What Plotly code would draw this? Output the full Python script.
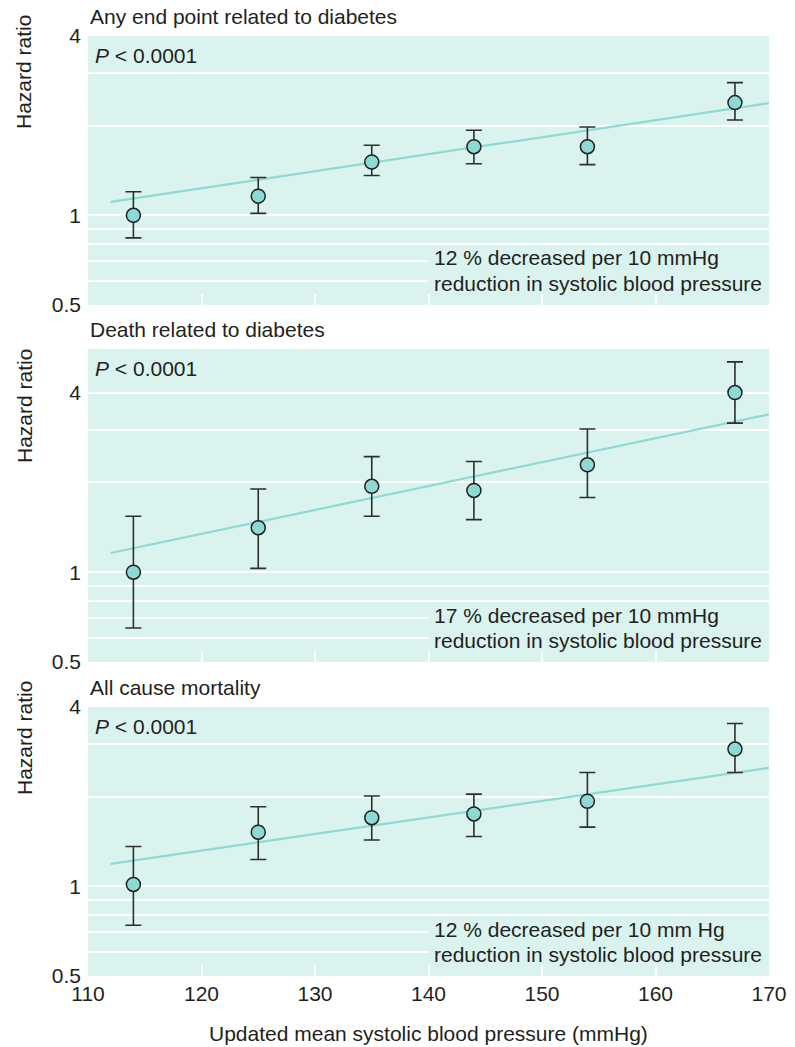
import plotly.graph_objects as go
import math

# ---- data ----
sbp = [114, 125, 135, 144, 154, 167]

titles = ["Any end point related to diabetes", "Death related to diabetes", "All cause mortality"]
notes_line1 = [
    "12 % decreased per 10 mmHg",
    "17 % decreased per 10 mmHg",
    "12 % decreased per 10 mm Hg",
]
notes_line2 = ["reduction in systolic blood pressure"] * 3

hr_any = [1.00, 1.16, 1.51, 1.70, 1.70, 2.39]
hi_any = [1.20, 1.34, 1.72, 1.93, 1.98, 2.79]
lo_any = [0.84, 1.015, 1.36, 1.49, 1.48, 2.09]

hr_death = [1.00, 1.41, 1.94, 1.88, 2.29, 4.00]
hi_death = [1.54, 1.90, 2.44, 2.35, 3.02, 5.07]
lo_death = [0.65, 1.03, 1.54, 1.50, 1.78, 3.16]

hr_all = [1.015, 1.52, 1.70, 1.75, 1.93, 2.89]
hi_all = [1.36, 1.85, 2.01, 2.04, 2.41, 3.52]
lo_all = [0.74, 1.23, 1.43, 1.47, 1.58, 2.41]

fit_x = [112, 170]
fit_any = [1.11, 2.38]
fit_death = [1.16, 3.38]
fit_all = [1.19, 2.50]

y_tickvals = [0.5, 0.6, 0.7, 0.8, 0.9, 1, 2, 3, 4]
y_ticktext = ["0.5", "", "", "", "", "1", "", "", "4"]
x_tickvals = [110, 120, 130, 140, 150, 160, 170]

# ---- style ----
W, H = 795, 1047
BG = "#DBF3EF"
TEAL = "#8DDAD5"
INK = "#231F20"
FONT = "Liberation Sans, Arial, sans-serif"
FS = 21


def px(x):
    return x / W


def py(y):
    return 1 - y / H


# panel pixel boxes (top, bottom)
panels = [(36, 305), (349, 662), (707, 976)]
yranges = [(0.5, 4.0), (0.5, 5.6), (0.5, 4.0)]
hr_label_y = [72, 406, 738]
x0, x1 = 88, 769

series = [
    (hr_any, hi_any, lo_any, fit_any),
    (hr_death, hi_death, lo_death, fit_death),
    (hr_all, hi_all, lo_all, fit_all),
]

fig = go.Figure()
annotations = []
shapes = []
for i, ((hr, hi, lo, fit), (top, bot), (ylo, yhi)) in enumerate(zip(series, panels, yranges)):
    n = i + 1
    xa = "x" if n == 1 else f"x{n}"
    ya = "y" if n == 1 else f"y{n}"
    fig.add_trace(go.Scatter(
        x=fit_x, y=fit, mode="lines", line=dict(color=TEAL, width=2.2),
        xaxis=xa, yaxis=ya, showlegend=False, hoverinfo="skip"))
    fig.add_trace(go.Scatter(
        x=sbp, y=hr, mode="markers",
        marker=dict(size=14, color=TEAL, line=dict(color=INK, width=1.5)),
        error_y=dict(type="data", symmetric=False,
                     array=[h - m for h, m in zip(hi, hr)],
                     arrayminus=[m - l for m, l in zip(hr, lo)],
                     color="#2E2E2E", thickness=1.6, width=8),
        xaxis=xa, yaxis=ya, showlegend=False))

    dom = [py(bot), py(top)]
    fig.layout[f"xaxis{'' if n == 1 else n}"] = dict(
        domain=[px(x0), px(x1)], range=[110, 170], anchor=ya, automargin=False,
        tickvals=x_tickvals, ticks="inside", ticklen=11, tickwidth=1.5,
        tickcolor="white", showgrid=False, zeroline=False, showline=False,
        showticklabels=(n == 3), ticklabelstandoff=3,
        tickfont=dict(family=FONT, size=FS, color=INK),
    )
    fig.layout[f"yaxis{'' if n == 1 else n}"] = dict(
        domain=dom, type="log", range=[math.log10(ylo), math.log10(yhi)],
        anchor=xa, automargin=False, tickvals=y_tickvals, ticktext=y_ticktext, ticks="",
        showgrid=True, gridcolor="white", gridwidth=1.5, zeroline=False,
        showline=False, ticklabelstandoff=6,
        tickfont=dict(family=FONT, size=FS, color=INK),
    )

    # panel title
    annotations.append(dict(
        text=titles[i], xref="paper", yref="paper", x=px(x0), y=py(top - 20),
        xanchor="left", yanchor="middle", showarrow=False,
        font=dict(family=FONT, size=FS, color=INK)))
    # y label
    annotations.append(dict(
        text="Hazard ratio", xref="paper", yref="paper", x=px(24), y=py(hr_label_y[i]),
        xanchor="center", yanchor="middle", textangle=-90, showarrow=False,
        font=dict(family=FONT, size=FS, color=INK)))
    # P value
    annotations.append(dict(
        text="<i>P</i> < 0.0001", xref="paper", yref="paper", x=px(93), y=py(top + 19),
        xanchor="left", yanchor="middle", showarrow=False,
        font=dict(family=FONT, size=FS, color=INK)))
    # note background (covers grid lines behind the text)
    shapes.append(dict(
        type="rect", xref=xa, yref="paper", x0=140, x1=170,
        y0=py(bot - 12), y1=py(bot - 58), fillcolor=BG, line=dict(width=0),
        layer="above"))
    # note text, two lines
    annotations.append(dict(
        text=notes_line1[i], xref="paper", yref="paper", x=px(432), y=py(bot - 47),
        xanchor="left", yanchor="middle", align="left", showarrow=False,
        font=dict(family=FONT, size=FS, color=INK)))
    annotations.append(dict(
        text=notes_line2[i], xref="paper", yref="paper", x=px(432), y=py(bot - 22),
        xanchor="left", yanchor="middle", align="left", showarrow=False,
        font=dict(family=FONT, size=FS, color=INK)))

annotations.append(dict(
    text="Updated mean systolic blood pressure (mmHg)", xref="paper", yref="paper",
    x=px((x0 + x1) / 2), y=py(1033), xanchor="center", yanchor="middle",
    showarrow=False, font=dict(family=FONT, size=FS, color=INK)))

fig.update_layout(
    width=W, height=H, margin=dict(l=0, r=0, t=0, b=0),
    paper_bgcolor="white", plot_bgcolor=BG,
    annotations=annotations, shapes=shapes,
    font=dict(family=FONT, size=FS, color=INK),
)

fig.write_html(
    "out.html",
    config={"displayModeBar": False},
    post_script="document.body.style.margin='0';document.body.style.overflow='hidden';",
)
